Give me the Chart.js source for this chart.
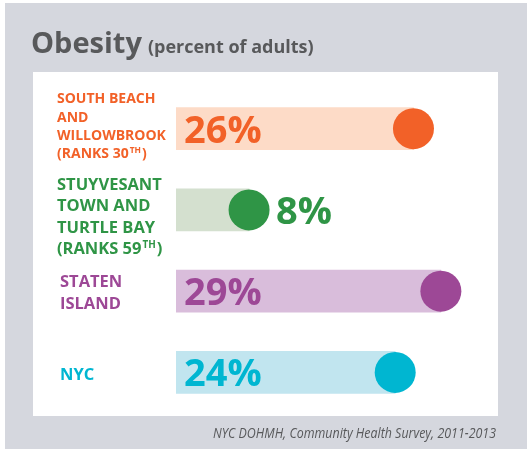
<!DOCTYPE html>
<html lang="en">
<head>
<meta charset="UTF-8">
<title>Obesity</title>
<style>
  html, body { margin: 0; padding: 0; background: #ffffff; }
  #wrap { width: 527px; height: 449px; }
</style>
</head>
<body>
<div id="wrap"><canvas id="grafica" width="527" height="449"></canvas></div>
<script src="https://cdn.jsdelivr.net/npm/chart.js"></script>
<script>
// datos
const areas = ['South Beach and Willowbrook', 'Stuyvesant Town and Turtle Bay', 'Staten Island', 'NYC'];
const obesidad = [26, 8, 29, 24];
// etiquetas de la izquierda, linea por linea (el segundo trozo va en superindice)
const etiquetas = [
    [['SOUTH BEACH'], ['AND'], ['WILLOWBROOK'], ['(RANKS 30', 'TH', ')']],
    [['STUYVESANT'], ['TOWN AND'], ['TURTLE BAY'], ['(RANKS 59', 'TH', ')']],
    [['STATEN'], ['ISLAND']],
    [['NYC']]
];
const colorFuerte = ['#f26128', '#2f9546', '#9d4896', '#00b6d1'];
const colorSuave = ['#fddbc7', '#d4e0cf', '#d9bddb', '#c1e5ef'];
const titulo = 'Obesity';
const subtitulo = '(percent of adults)';
const fuente = 'NYC DOHMH, Community Health Survey, 2011-2013';

const FAM = '"Open Sans", "Noto Sans", sans-serif';

const fondo = {
    id: 'fondo',
    beforeDraw(chart) {
        const c = chart.ctx;
        c.save();
        c.fillStyle = '#ffffff';
        c.fillRect(0, 0, chart.width, chart.height);
        c.fillStyle = '#d5d7de';
        c.fillRect(5, 3, chart.width - 5, chart.height - 3);
        c.fillStyle = '#ffffff';
        c.fillRect(33, 72, 465, 344);
        // titulo
        c.fillStyle = '#58595b';
        c.textBaseline = 'alphabetic';
        c.font = 'bold 29px ' + FAM;
        c.fillText(titulo, 31, 53);
        const w = c.measureText(titulo).width;
        c.font = 'bold 18px ' + FAM;
        c.fillText(subtitulo, 31 + w + 6, 53);
        // fuente, algo condensada
        c.font = 'italic 14.5px ' + FAM;
        const fw = c.measureText(fuente).width;
        const k = 283 / fw;
        c.translate(496, 438);
        c.scale(k, 1);
        c.textAlign = 'right';
        c.fillText(fuente, 0, 0);
        c.restore();
    }
};

const ajusteEtiqueta = [-3, 6, 1, 2];

const textos = {
    id: 'textos',
    afterDraw(chart) {
        const c = chart.ctx;
        const xs = chart.scales.x;
        const ys = chart.scales.y;
        c.save();
        c.textBaseline = 'alphabetic';
        obesidad.forEach((v, i) => {
            const cy = ys.getPixelForValue(i);
            // etiqueta
            const lineas = etiquetas[i];
            const size = i === 0 ? 14 : 16.5;
            const alto = i === 0 ? 18.3 : 21.5;
            const x0 = i >= 2 ? 60 : 57;
            let y = cy + ajusteEtiqueta[i] - (lineas.length - 1) * alto / 2 + size * 0.36;
            c.fillStyle = colorFuerte[i];
            lineas.forEach(l => {
                let x = x0;
                c.textAlign = 'left';
                c.font = 'bold ' + size + 'px ' + FAM;
                c.fillText(l[0], x, y);
                x += c.measureText(l[0]).width + 1;
                if (l.length > 1) {
                    c.font = 'bold ' + (size * 0.6) + 'px ' + FAM;
                    c.fillText(l[1], x, y - size * 0.38);
                    x += c.measureText(l[1]).width + 1;
                    c.font = 'bold ' + size + 'px ' + FAM;
                    c.fillText(l[2], x, y);
                }
                y += alto;
            });
            // porcentaje
            c.font = 'bold 38px ' + FAM;
            const txt = v + '%';
            const tw = c.measureText(txt).width;
            const left = xs.getPixelForValue(0);
            const px = xs.getPixelForValue(v);
            let tx = left + 8;
            if (tx + tw > px - 22) tx = px + 27;
            c.fillStyle = colorFuerte[i];
            c.fillText(txt, tx, cy + 14);
        });
        c.restore();
    }
};

const ctx = document.getElementById('grafica').getContext('2d');
const grafica = new Chart(ctx, {
    type: 'bar',
    data: {
        labels: areas,
        datasets: [
            {
                type: 'line',
                label: 'punto',
                data: obesidad,
                showLine: false,
                clip: false,
                pointRadius: 20.5,
                pointHoverRadius: 20.5,
                pointBorderWidth: 0,
                pointBackgroundColor: colorFuerte,
                pointBorderColor: colorFuerte,
                order: 0
            },
            {
                label: 'Obesity',
                data: obesidad,
                backgroundColor: colorSuave,
                borderWidth: 0,
                barThickness: 42,
                order: 1
            }
        ]
    },
    options: {
        indexAxis: 'y',
        responsive: false,
        animation: false,
        layout: { padding: { left: 176, right: 77, top: 88, bottom: 36 } },
        plugins: { legend: { display: false }, tooltip: { enabled: false } },
        scales: {
            x: { display: false, min: 0, max: 30 },
            y: { display: false, offset: true }
        }
    },
    plugins: [fondo, textos]
});
</script>
</body>
</html>
